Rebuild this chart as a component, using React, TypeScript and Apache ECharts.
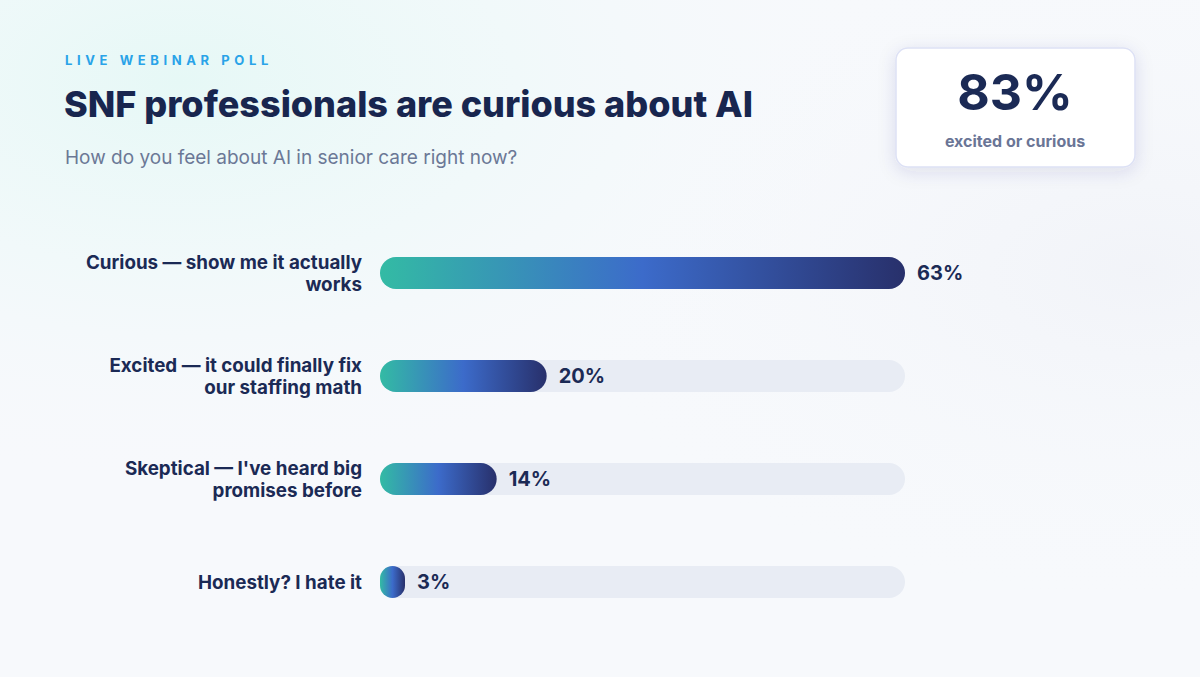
import React, { useEffect, useRef } from "react";
import * as echarts from "echarts";

const categories = [
  "Curious — show me it actually\nworks",
  "Excited — it could finally fix\nour staffing math",
  "Skeptical — I've heard big\npromises before",
  "Honestly? I hate it",
];
const values = [63, 20, 14, 3];
const kicker = "LIVE WEBINAR POLL";
const titleText = "SNF professionals are curious about AI";
const subtitleText = "How do you feel about AI in senior care right now?";
const kpiValue = "83%";
const kpiLabel = "excited or curious";

const FONT = "Inter, 'Noto Sans', sans-serif";
const NAVY = "#1b2a55";

export default function App() {
  const ref = useRef<HTMLDivElement>(null);
  useEffect(() => {
    document.body.style.margin = "0";
    const chart = echarts.init(ref.current!, null, { renderer: "svg" });
    const maxVal = Math.max(...values);
    chart.setOption({
      animation: false,
      backgroundColor: "#f7f9fc",
      grid: { left: 380, right: 295, top: 221.5, bottom: 43.5, containLabel: false },
      xAxis: { type: "value", min: 0, max: maxVal, show: false },
      yAxis: {
        type: "category",
        inverse: true,
        data: categories,
        axisLine: { show: false },
        axisTick: { show: false },
        splitLine: { show: false },
        axisLabel: {
          margin: 18,
          align: "right",
          fontFamily: FONT,
          fontSize: 18.8,
          fontWeight: "bold",
          lineHeight: 22,
          color: NAVY,
        },
      },
      graphic: [
        {
          type: "rect",
          z: -10,
          silent: true,
          shape: { x: 0, y: 0, width: 1200, height: 677 },
          style: {
            fill: {
              type: "radial",
              x: 0.15,
              y: 0.12,
              r: 0.6,
              colorStops: [
                { offset: 0, color: "#e6f8f6" },
                { offset: 0.5, color: "rgba(238,249,249,0.6)" },
                { offset: 1, color: "rgba(247,249,252,0)" },
              ],
            },
          },
        },
        {
          type: "rect",
          z: -9,
          silent: true,
          shape: { x: 0, y: 0, width: 1200, height: 677 },
          style: {
            fill: {
              type: "radial",
              x: 0.95,
              y: 0.4,
              r: 0.5,
              colorStops: [
                { offset: 0, color: "rgba(238,240,246,0.6)" },
                { offset: 1, color: "rgba(247,249,252,0)" },
              ],
            },
          },
        },
        {
          type: "text",
          x: 65,
          y: 60,
          style: {
            text: kicker,
            font: `bold 13px ${FONT}`,
            fill: "#29a3e8",
            textAlign: "left",
            textVerticalAlign: "middle",
          },
        },
        {
          type: "text",
          x: 64,
          y: 104,
          style: {
            text: titleText,
            font: `800 36px ${FONT}`,
            fill: "#18264f",
            textAlign: "left",
            textVerticalAlign: "middle",
          },
        },
        {
          type: "text",
          x: 65,
          y: 157,
          style: {
            text: subtitleText,
            font: `19px ${FONT}`,
            fill: "#6b7896",
            textAlign: "left",
            textVerticalAlign: "middle",
          },
        },
        {
          type: "rect",
          shape: { x: 896, y: 48, width: 239, height: 119, r: 12 },
          style: {
            fill: "#ffffff",
            stroke: "#dde1f5",
            lineWidth: 1.5,
            shadowBlur: 18,
            shadowOffsetY: 4,
            shadowColor: "rgba(40,60,120,0.12)",
          },
        },
        {
          type: "text",
          x: 1015,
          y: 92,
          style: {
            text: kpiValue,
            font: `bold 50px ${FONT}`,
            fill: NAVY,
            textAlign: "center",
            textVerticalAlign: "middle",
          },
        },
        {
          type: "text",
          x: 1015,
          y: 141,
          style: {
            text: kpiLabel,
            font: `bold 16px ${FONT}`,
            fill: "#6a7596",
            textAlign: "center",
            textVerticalAlign: "middle",
          },
        },
      ],
      series: [
        {
          type: "bar",
          silent: true,
          barWidth: 32,
          data: categories.map(() => maxVal),
          itemStyle: { color: "#e8ecf4", borderRadius: 16 },
          z: 1,
        },
        {
          type: "bar",
          barWidth: 32,
          barGap: "-100%",
          data: values,
          z: 2,
          itemStyle: {
            borderRadius: 16,
            color: new echarts.graphic.LinearGradient(0, 0, 1, 0, [
              { offset: 0, color: "#33bba4" },
              { offset: 0.5, color: "#3c6bca" },
              { offset: 1, color: "#28306b" },
            ]),
          },
          label: {
            show: true,
            position: "right",
            distance: 12,
            formatter: "{c}%",
            fontFamily: FONT,
            fontSize: 20,
            fontWeight: "bold",
            color: NAVY,
          },
        },
      ],
    });
    const applySpacing = () => {
      const texts = ref.current?.querySelectorAll("text") || [];
      texts.forEach((t) => {
        if (t.textContent === kicker) {
          (t as SVGTextElement).style.letterSpacing = "4.6px";
        }
      });
    };
    applySpacing();
    chart.on("finished", applySpacing);
    return () => chart.dispose();
  }, []);
  return (
    <div
      ref={ref}
      style={{ position: "fixed", left: 0, top: 0, width: 1200, height: 677 }}
    />
  );
}
